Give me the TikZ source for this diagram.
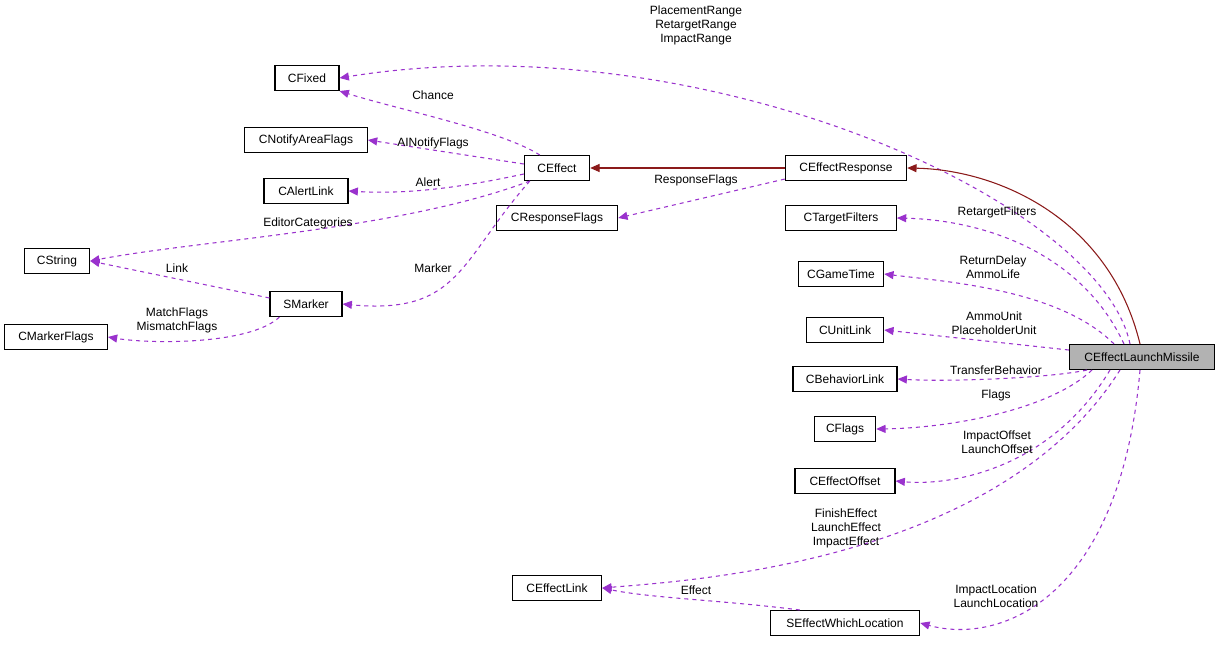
\documentclass[tikz,border=0pt]{standalone}
\usepackage{fontspec}
\setmainfont{Liberation Sans}
\usetikzlibrary{arrows.meta}
\definecolor{ep}{HTML}{9A32CD}
\definecolor{er}{HTML}{8B1A1A}
\begin{document}
\begin{tikzpicture}[x=0.75pt,y=-0.75pt,
  font=\fontsize{9}{10.5}\selectfont,
  box/.style={draw,thick,inner sep=0pt,minimum height=18.75pt,align=center},
  dep/.style={ep,dashed,thick,-{Triangle[length=7pt,width=6pt]}},
  inh/.style={er,thick,-{Triangle[length=7pt,width=6pt]}},
  lab/.style={align=center,inner sep=0pt}]
\useasboundingbox (0,0) rectangle (1221,645);
\node[box,minimum width=48pt] (fixed) at (307,78) {CFixed};
\node[box,minimum width=92pt] (notify) at (306,140) {CNotifyAreaFlags};
\node[box,minimum width=63pt] (alert) at (306,191) {CAlertLink};
\node[box,minimum width=49pt] (string) at (57,261) {CString};
\node[box,minimum width=77pt] (mflags) at (56,337) {CMarkerFlags};
\node[box,minimum width=54pt] (smarker) at (306,304) {SMarker};
\node[box,minimum width=49pt] (effect) at (557,168) {CEffect};
\node[box,minimum width=91pt] (rflags) at (557,218) {CResponseFlags};
\node[box,minimum width=91pt] (eresp) at (846,168) {CEffectResponse};
\node[box,minimum width=83pt] (tfilt) at (841,218) {CTargetFilters};
\node[box,minimum width=64pt] (gtime) at (841,274) {CGameTime};
\node[box,minimum width=58pt] (ulink) at (845,330) {CUnitLink};
\node[box,minimum width=78pt] (blink) at (845,379) {CBehaviorLink};
\node[box,minimum width=46pt] (flags) at (845,429) {CFlags};
\node[box,minimum width=75pt] (eoff) at (845,481) {CEffectOffset};
\node[box,minimum width=67pt] (elink) at (557,588) {CEffectLink};
\node[box,minimum width=112pt] (ewl) at (845,623) {SEffectWhichLocation};
\node[box,minimum width=109pt,fill=black!30] (elm) at (1142,357) {CEffectLaunchMissile};

\draw[dep] (elm.north) ++(-12,0) .. controls (1100,200) and (700,20) .. (fixed.east);
\draw[inh] (elm.north) ++(-2,0) .. controls (1110,220) and (1000,170) .. (eresp.east);
\draw[dep] (elm.north) ++(-18,0) .. controls (1080,250) and (980,220) .. (tfilt.east);
\draw[dep] (elm.north) ++(-28,0) .. controls (1060,290) and (950,282) .. (gtime.east);
\draw[dep] (elm.west) ++(0,-7) -- (ulink.east);
\draw[dep] (elm.south) ++(-55,0) .. controls (1050,378) and (950,382) .. (blink.east);
\draw[dep] (elm.south) ++(-50,0) .. controls (1050,410) and (950,428) .. (flags.east);
\draw[dep] (elm.south) ++(-32,0) .. controls (1050,470) and (950,486) .. (eoff.east);
\draw[dep] (elm.south) ++(-22,0) .. controls (1000,560) and (700,580) .. (elink.east);
\draw[dep] (elm.south) ++(-2,0) .. controls (1120,600) and (1000,645) .. (ewl.east);
\draw[inh] (eresp.west) -- (effect.east);
\draw[dep] (eresp.south west) ++(0,-2) -- (rflags.east);
\draw[dep] (effect.north west) ++(16,0) .. controls (500,130) and (400,110) .. (fixed.south east);
\draw[dep] (effect.west) ++(0,-4) -- (notify.east);
\draw[dep] (effect.west) ++(0,6) .. controls (450,190) and (400,194) .. (alert.east);
\draw[dep] (effect.south west) ++(6,0) .. controls (400,230) and (200,240) .. (string.east);
\draw[dep] (effect.south west) ++(6,0) .. controls (460,260) and (460,315) .. (smarker.east);
\draw[dep] (smarker.west) ++(0,-6) -- (string.east);
\draw[dep] (smarker.south west) ++(10,0) .. controls (250,345) and (150,344) .. (mflags.east);
\draw[dep] (ewl.north west) ++(30,0) .. controls (720,600) and (650,598) .. (elink.east);

\node[lab] at (696,25) {PlacementRange\\RetargetRange\\ImpactRange};
\node[lab] at (997,212) {RetargetFilters};
\node[lab] at (993,267) {ReturnDelay\\AmmoLife};
\node[lab] at (994,323) {AmmoUnit\\PlaceholderUnit};
\node[lab] at (996,370) {TransferBehavior};
\node[lab] at (996,395) {Flags};
\node[lab] at (997,442) {ImpactOffset\\LaunchOffset};
\node[lab] at (846,528) {FinishEffect\\LaunchEffect\\ImpactEffect};
\node[lab] at (996,596) {ImpactLocation\\LaunchLocation};
\node[lab] at (696,180) {ResponseFlags};
\node[lab] at (433,95) {Chance};
\node[lab] at (433,143) {AINotifyFlags};
\node[lab] at (428,182) {Alert};
\node[lab] at (308,223) {EditorCategories};
\node[lab] at (433,268) {Marker};
\node[lab] at (177,268) {Link};
\node[lab] at (177,320) {MatchFlags\\MismatchFlags};
\node[lab] at (696,590) {Effect};
\end{tikzpicture}
\end{document}
